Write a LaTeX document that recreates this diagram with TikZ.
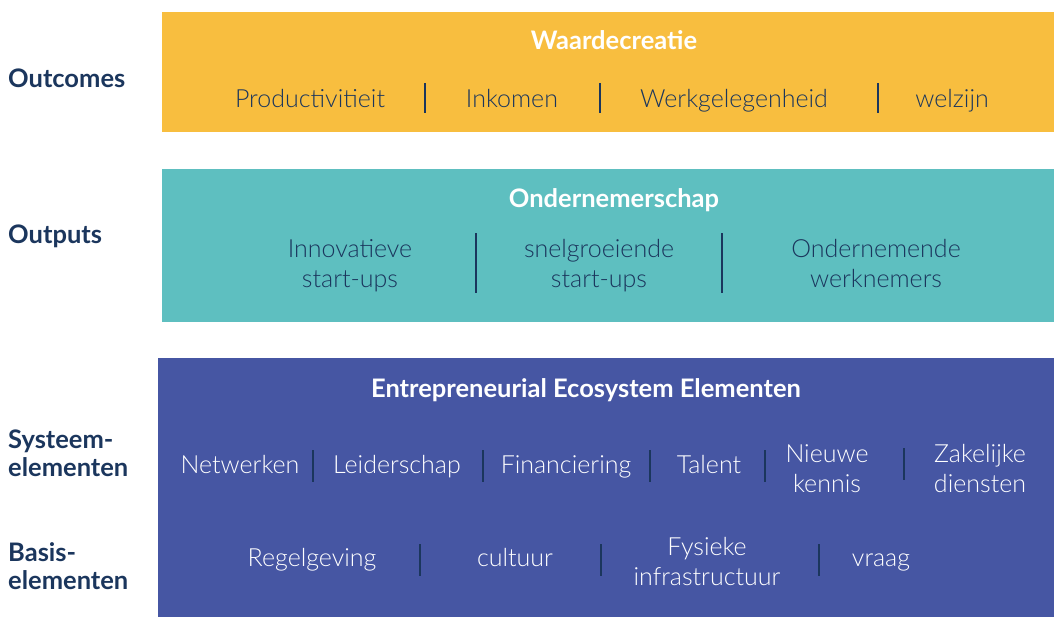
\documentclass[tikz,border=0pt]{standalone}
\usepackage{fontspec}
\setmainfont{Lato}
\IfFontExistsTF{Lato Light}{\newfontfamily\itemfont{Lato Light}}{\newfontfamily\itemfont{Lato}}
\usepackage{xcolor}
\usetikzlibrary{positioning}

\definecolor{outyellow}{HTML}{F8BE3F}
\definecolor{outteal}{HTML}{5EBFC0}
\definecolor{ecoblue}{HTML}{4656A3}
\definecolor{navy}{HTML}{1B365D}

\begin{document}
\begin{tikzpicture}[
    x=1pt, y=-1pt,
    band/.style={rectangle, anchor=north west, inner sep=0pt},
    ttl/.style={font=\fontsize{25.5}{29}\selectfont\bfseries, text=white, anchor=base, inner sep=0pt},
    lbl/.style={font=\fontsize{25.5}{28}\selectfont\bfseries, text=navy, anchor=base west, align=left, inner sep=0pt},
    item/.style={font=\fontsize{25}{29.5}\itemfont, text=navy, align=center, anchor=base, inner sep=0pt},
    itemw/.style={item, text=white},
    sep/.style={rectangle, fill=navy, minimum width=2.5pt, minimum height=30pt, inner sep=0pt}
]
\useasboundingbox (0,0) rectangle (1054,618);

% Bands
\node[band, fill=outyellow, minimum width=892pt, minimum height=120pt] (outcomes) at (162,12) {};
\node[band, fill=outteal, minimum width=892pt, minimum height=153pt] (outputs) at (162,169) {};
\node[band, fill=ecoblue, minimum width=896pt, minimum height=259pt] (eco) at (158,358) {};

% Left labels (base = last line)
\node[lbl] (lout)  at (8,87)  {Outcomes};
\node[lbl] (lput)  at (8,243) {Outputs};
\node[lbl] (lsys)  at (8,476) {Systeem-\\elementen};
\node[lbl] (lbas)  at (8,589) {Basis-\\elementen};

% Outcomes
\node[ttl] (waarde) at (614,49) {Waardecreatie};
\node[item] (prod) at (310,107) {Productivitieit};
\node[sep] (s1) at (425,98) {};
\node[item] (ink)  at (512,107) {Inkomen};
\node[sep] (s2) at (600,98) {};
\node[item] (werk) at (734,107) {Werkgelegenheid};
\node[sep] (s3) at (878,98) {};
\node[item] (welz) at (952,107) {welzijn};

% Outputs
\node[ttl] (onder) at (614,207) {Ondernemerschap};
\node[item] (innov) at (350,287) {Innovatieve\\start-ups};
\node[sep, minimum height=60pt] (s4) at (476,263) {};
\node[item] (snel)  at (599,287) {snelgroeiende\\start-ups};
\node[sep, minimum height=60pt] (s5) at (722,263) {};
\node[item] (werkn) at (876,287) {Ondernemende\\werknemers};

% Ecosystem elements
\node[ttl] (ecottl) at (586,397) {Entrepreneurial Ecosystem Elementen};
\node[itemw] (netw) at (240,473) {Netwerken};
\node[sep, minimum height=32pt] (s6) at (313,466) {};
\node[itemw] (leid) at (397,473) {Leiderschap};
\node[sep, minimum height=32pt] (s7) at (483,466) {};
\node[itemw] (fin)  at (566,473) {Financiering};
\node[sep, minimum height=32pt] (s8) at (650,466) {};
\node[itemw] (tal)  at (709,473) {Talent};
\node[sep, minimum height=32pt] (s9) at (765,466) {};
\node[itemw] (kenn) at (827,492) {Nieuwe\\kennis};
\node[sep, minimum height=32pt] (s10) at (904,464) {};
\node[itemw] (zak)  at (980,492) {Zakelijke\\diensten};

\node[itemw] (regel) at (312,566) {Regelgeving};
\node[sep, minimum height=32pt] (s11) at (420,560) {};
\node[itemw] (cult)  at (515,566) {cultuur};
\node[sep, minimum height=32pt] (s12) at (601,560) {};
\node[itemw] (fys)   at (707,585) {Fysieke\\infrastructuur};
\node[sep, minimum height=32pt] (s13) at (819,560) {};
\node[itemw] (vraag) at (881,566) {vraag};

\end{tikzpicture}
\end{document}
